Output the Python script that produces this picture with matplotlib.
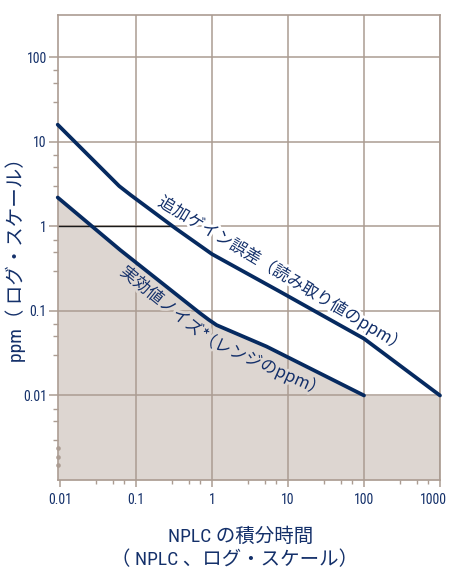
import matplotlib
matplotlib.use('Agg')
import matplotlib.pyplot as plt
from matplotlib import font_manager
from matplotlib.ticker import FixedLocator, NullFormatter, FixedFormatter
from matplotlib.transforms import ScaledTranslation
import matplotlib.patheffects as pe

# ---------------- data ----------------
x_ticks = [0.01, 0.1, 1, 10, 100, 1000]
x_tick_labels = ['0.01', '0.1', '1', '10', '100', '1000']
y_ticks = [0.01, 0.1, 1, 10, 100]
y_tick_labels = ['0.01', '0.1', '1', '10', '100']

gain_x = [0.0093, 0.06, 0.085, 0.33, 1.0, 7.85, 100, 1000]
gain_y = [16, 3.0, 2.35, 0.95, 0.47, 0.169, 0.047, 0.01]

noise_x = [0.0093, 0.0617, 0.695, 0.9, 1.15, 5.2, 100]
noise_y = [2.2, 0.527, 0.094, 0.079, 0.068, 0.038, 0.01]

floor_x = [100, 1000]
floor_y = [0.01, 0.01]

gain_label = '追加ゲイン誤差（読み取り値のppm）'
noise_label_1 = '実効値ノイズ*'
noise_label_2 = '（レンジのppm）'
xlabel_1 = 'NPLC の積分時間'
xlabel_2 = '（ NPLC 、ログ・スケール）'
ylabel = 'ppm（ ログ・スケール）'

# ---------------- style ----------------
navy = '#062a60'
textc = '#14306a'
gridc = '#ab9c92'
fillc = '#ddd6d1'

available = {f.name for f in font_manager.fontManager.ttflist}
narrow, tick_size, lab_size = 'Noto Sans CJK JP', 9.5, 13.5
for cand, ts, ls in [('Roboto Condensed', 10.0, 14.0), ('PT Sans Narrow', 10.5, 14.5),
                     ('Archivo Narrow', 10.0, 14.0), ('Liberation Sans Narrow', 10.0, 14.0)]:
    if cand in available:
        narrow, tick_size, lab_size = cand, ts, ls
        break
fam = [narrow, 'Noto Sans CJK JP', 'DejaVu Sans']
cjk = ['Noto Sans CJK JP', 'DejaVu Sans']

W, H = 452, 572
fig = plt.figure(figsize=(W / 100, H / 100), dpi=100)
L, R, T, B = 57.7, 440, 14.7, 480
ax = fig.add_axes([L / W, 1 - B / H, (R - L) / W, (B - T) / H])

ax.set_xscale('log')
ax.set_yscale('log')
ax.set_xlim(0.0093, 1000)
ax.set_ylim(0.001, 320)

# fill under the noise curve and the floor
fx = noise_x + floor_x[1:]
fy = noise_y + floor_y[1:]
ax.fill_between(fx, fy, 0.001, color=fillc, lw=0, zorder=0.3)

# ticks
ax.xaxis.set_major_locator(FixedLocator(x_ticks))
ax.xaxis.set_major_formatter(FixedFormatter(x_tick_labels))
ax.yaxis.set_major_locator(FixedLocator(y_ticks))
ax.yaxis.set_major_formatter(FixedFormatter(y_tick_labels))
ax.xaxis.set_minor_locator(FixedLocator([m * 10.0 ** k for k in range(-2, 3) for m in (3, 5, 7)]))
ax.yaxis.set_minor_locator(FixedLocator([m * 10.0 ** k for k in range(-3, 2) for m in (3, 5, 7)]))
ax.xaxis.set_minor_formatter(NullFormatter())
ax.yaxis.set_minor_formatter(NullFormatter())

ax.tick_params(axis='x', which='major', length=5.2, width=1.1, color=gridc, pad=4.5,
               labelsize=tick_size, labelcolor=textc)
ax.tick_params(axis='x', which='minor', length=3, width=1.0, color=gridc)
ax.tick_params(axis='y', which='major', length=6.8, width=1.1, color=gridc, pad=1,
               labelsize=tick_size, labelcolor=textc)
ax.tick_params(axis='y', which='minor', length=3.3, width=1.0, color=gridc)
for lab in ax.get_xticklabels() + ax.get_yticklabels():
    lab.set_family(fam)

# the last x label sits a little left of its tick, as in the reference
last = ax.xaxis.get_major_ticks()[-1].label1
last.set_transform(last.get_transform() + ScaledTranslation(-0.065, 0, fig.dpi_scale_trans))

for s in ax.spines.values():
    s.set_color(gridc)
    s.set_linewidth(1.2)

ax.set_axisbelow(True)
ax.grid(True, which='major', color=gridc, lw=1.1)
ax.xaxis.get_gridlines()[0].set_visible(False)

# black leader line at y = 1
ax.plot([0.0093, 0.3], [1, 1], color='#1a1a1a', lw=1.0, zorder=1.2, clip_on=False)
ax.yaxis.get_major_ticks()[2].tick1line.set_color('#1a1a1a')

# curves
ax.plot(gain_x, gain_y, color=navy, lw=2.7, solid_joinstyle='round',
        solid_capstyle='round', zorder=3, clip_on=False)
ax.plot(noise_x + floor_x[:1], noise_y + floor_y[:1], color=navy, lw=2.7,
        solid_joinstyle='round', solid_capstyle='round', zorder=3, clip_on=False)

# curve labels
ax.text(8.34, 0.274, gain_label, rotation=-31, rotation_mode='anchor', ha='center',
        va='center', fontsize=12, color=textc, family=cjk, zorder=1.5,
        path_effects=[pe.withStroke(linewidth=4, foreground='white')])
ax.text(0.233, 0.121, noise_label_1, rotation=-39, rotation_mode='anchor', ha='center',
        va='center', fontsize=12, color=textc, family=cjk, zorder=1.5,
        path_effects=[pe.withStroke(linewidth=4, foreground=fillc)])
ax.text(4.55, 0.0236, noise_label_2, rotation=-24, rotation_mode='anchor', ha='center',
        va='center', fontsize=12, color=textc, family=cjk, zorder=1.5,
        path_effects=[pe.withStroke(linewidth=4, foreground=fillc)])

# axis-break dots on the left spine
ax.plot([0, 0, 0], [0.068, 0.050, 0.032], 'o', ms=3.3, color=gridc, mec='none',
        transform=ax.transAxes, clip_on=False, zorder=4)

# axis labels
fig.text(241 / W, 1 - 536.7 / H, xlabel_1, ha='center', va='center', fontsize=lab_size,
         color=textc, family=fam)
fig.text(235 / W, 1 - 560 / H, xlabel_2, ha='center', va='center', fontsize=lab_size,
         color=textc, family=fam)
fig.text(16 / W, 1 - 255 / H, ylabel, ha='center', va='center', rotation=90,
         fontsize=lab_size, color=textc, family=fam)

fig.savefig('out.png', dpi=100, facecolor='white')
